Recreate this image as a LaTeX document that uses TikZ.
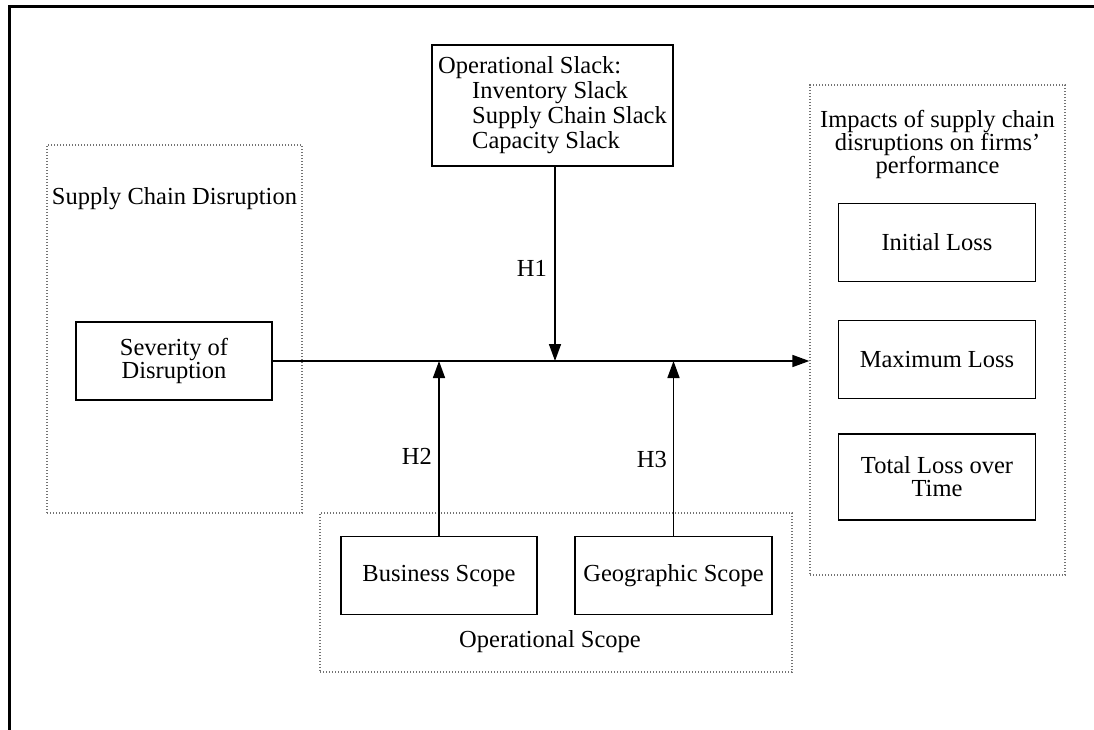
\documentclass[tikz,border=0pt]{standalone}
\usepackage{fontspec}
\setmainfont{Liberation Serif}
\usetikzlibrary{arrows.meta}
\begin{document}
\begin{tikzpicture}[x=1pt,y=-1pt,
  every node/.style={font=\fontsize{24.5}{23}\selectfont, inner sep=0pt},
  solidbox/.style={draw=black, line width=1.6pt, align=center},
  dotbox/.style={draw=black!55, line width=1.3pt, dash pattern=on 1.2pt off 1.8pt},
  arr/.style={line width=1.6pt, -{Triangle[length=17pt,width=12pt]}},
  frame/.style={line width=3pt}]
\useasboundingbox (0,0) rectangle (1094,730);
\coordinate (ftr) at (1094,7);
\coordinate (ftl) at (9,7);
\coordinate (fbl) at (9,730);
\draw[frame] (ftr) -- (ftl) -- (fbl);

% dotted groups
\node[dotbox, minimum width=255, minimum height=368] (scd) at (174.5,329) {};
\node (scdlbl) at (174.5,199) {Supply Chain Disruption};
\node[dotbox, minimum width=255, minimum height=490] (imp) at (937.5,330) {};
\node[align=center] (implbl) at (937.5,144) {Impacts of supply chain\\disruptions on firms'\\performance};
\node[dotbox, minimum width=472, minimum height=159] (ops) at (556,592.5) {};
\node (opslbl) at (550,642) {Operational Scope};

% solid boxes
\node[solidbox, minimum width=196, minimum height=78] (sev) at (174,361) {Severity of\\Disruption};
\node[solidbox, align=left, minimum width=241, minimum height=121,
      font=\fontsize{24.5}{25}\selectfont] (slack) at (552.5,105.5)
  {Operational Slack:\\\hspace*{34pt}Inventory Slack\\\hspace*{34pt}Supply Chain Slack\\\hspace*{34pt}Capacity Slack};
\node[solidbox, minimum width=196, minimum height=78] (bus) at (439,575.5) {Business Scope};
\node[solidbox, minimum width=197, minimum height=78] (geo) at (673.5,575.5) {Geographic Scope};
\node[solidbox, minimum width=197, minimum height=78] (init) at (937,242.5) {Initial Loss};
\node[solidbox, minimum width=197, minimum height=78] (maxl) at (937,359.5) {Maximum Loss};
\node[solidbox, minimum width=197, minimum height=86] (total) at (937,477) {Total Loss over\\Time};

% connectors
\draw[arr] (sev.east) -- (sev.east -| imp.west);
\draw[arr] ([xshift=2.5pt]slack.south) -- ([xshift=2.5pt]slack.south |- sev.east);
\draw[arr] (bus.north) -- (bus.north |- sev.east);
\draw[arr] (geo.north) -- (geo.north |- sev.east);

% labels
\node[anchor=east] (h1) at (547,268) {H1};
\node[anchor=east] (h2) at (432,456) {H2};
\node[anchor=east] (h3) at (667,460) {H3};
\end{tikzpicture}
\end{document}
